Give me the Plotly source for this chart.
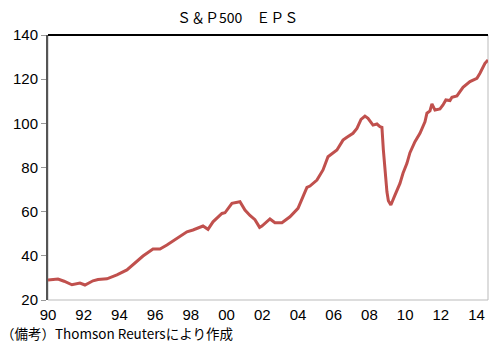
import plotly.graph_objects as go

# S&P500 EPS, read as (decimal year, EPS) pairs
years = [1990.0, 1990.56, 1990.9, 1991.34, 1991.79, 1992.07, 1992.52, 1992.8, 1993.3,
         1993.86, 1994.42, 1994.98, 1995.32, 1995.88, 1996.27, 1996.66, 1997.22,
         1997.78, 1998.12, 1998.68, 1998.96, 1999.24, 1999.74, 1999.91, 2000.3,
         2000.75, 2001.03, 2001.31, 2001.59, 2001.85, 2001.98, 2002.43, 2002.71,
         2003.1, 2003.55, 2004.0, 2004.28, 2004.5, 2004.67, 2005.06, 2005.4,
         2005.68, 2006.18, 2006.52, 2006.74, 2007.08, 2007.3, 2007.53, 2007.75,
         2007.92, 2008.2, 2008.42, 2008.59, 2008.7, 2008.78, 2008.89, 2008.98,
         2009.06, 2009.2, 2009.43, 2009.71, 2009.88, 2010.1, 2010.27, 2010.55,
         2010.83, 2011.11, 2011.22, 2011.39, 2011.5, 2011.67, 2011.95, 2012.12,
         2012.28, 2012.51, 2012.62, 2012.9, 2013.24, 2013.63, 2014.02, 2014.19,
         2014.47, 2014.64]
eps = [29.0, 29.5, 28.5, 26.9, 27.7, 26.8, 28.7, 29.3, 29.6,
       31.4, 33.6, 37.3, 39.9, 43.1, 43.1, 44.9, 47.9,
       50.9, 51.7, 53.5, 52.0, 55.4, 59.2, 59.5, 63.8,
       64.5, 60.7, 58.3, 56.4, 52.9, 53.5, 56.7, 55.0,
       55.0, 57.7, 61.5, 66.8, 71.0, 71.6, 74.3, 78.9,
       84.9, 87.9, 92.4, 93.7, 95.5, 97.7, 101.8, 103.3,
       102.3, 99.2, 99.7, 98.5, 98.2, 88.0, 76.0, 69.0,
       65.0, 63.0, 67.5, 72.8, 77.4, 81.9, 86.7, 91.7,
       95.5, 100.7, 104.6, 105.6, 108.8, 106.0, 106.5, 108.3,
       110.6, 110.3, 111.8, 112.4, 116.3, 118.9, 120.4, 122.7,
       127.2, 128.7]

tick_years = [1990, 1992, 1994, 1996, 1998, 2000, 2002, 2004, 2006, 2008, 2010, 2012, 2014]
tick_labels = ["90", "92", "94", "96", "98", "00", "02", "04", "06", "08", "10", "12", "14"]
y_ticks = [20, 40, 60, 80, 100, 120, 140]

fig = go.Figure()
fig.add_trace(go.Scatter(
    x=years, y=eps, mode="lines",
    line=dict(color="#C0504D", width=3),
    hoverinfo="skip", showlegend=False,
))

fig.update_layout(
    width=489, height=344,
    margin=dict(l=48, r=1, t=35, b=44),
    paper_bgcolor="white", plot_bgcolor="white",
    xaxis=dict(
        range=[1990, 2014.64], tickvals=tick_years, ticktext=tick_labels,
        showgrid=False, zeroline=False, showline=False, ticks="",
        ticklabelstandoff=4,
        tickfont=dict(family="Liberation Sans Narrow, Liberation Sans", size=15, color="black"),
    ),
    yaxis=dict(
        range=[20, 140], tickvals=y_ticks,
        showgrid=False, zeroline=False,
        showline=True, linecolor="#555555", linewidth=2,
        ticks="outside", ticklen=5, tickcolor="#999999", tickwidth=1,
        tickfont=dict(family="Liberation Sans", size=15, color="black"),
    ),
    shapes=[
        dict(type="rect", xref="paper", yref="paper", x0=0, x1=1, y0=0, y1=1,
             line=dict(color="#BBBBBB", width=1), layer="below"),
        dict(type="line", xref="paper", yref="paper", x0=0, x1=1, y0=1, y1=1,
             line=dict(color="black", width=2)),
    ],
    annotations=[
        dict(text="Ｓ＆Ｐ500　ＥＰＳ", xref="paper", yref="paper", x=0.43, y=1,
             yshift=18, showarrow=False, xanchor="center", yanchor="middle",
             font=dict(family="Noto Sans CJK JP", size=14, color="black")),
        dict(text="（備考）Thomson Reutersにより作成", xref="paper", yref="paper",
             x=0, y=0, xshift=-48, yshift=-44, showarrow=False,
             xanchor="left", yanchor="bottom", borderpad=0,
             font=dict(family="Noto Sans CJK JP", size=13.5, color="black")),
    ],
)

fig.write_html("out.html")
